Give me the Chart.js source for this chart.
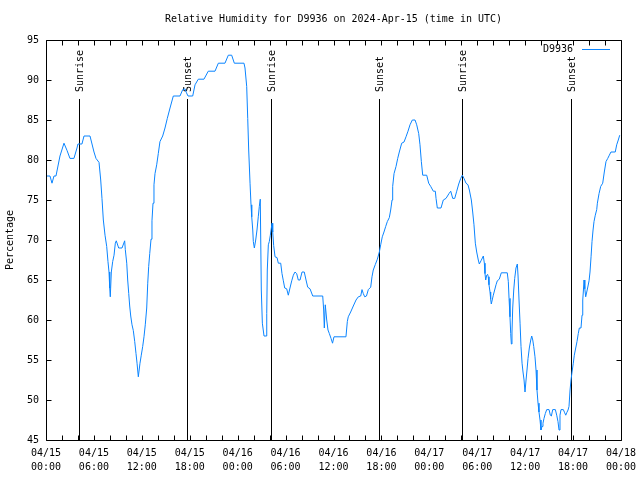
<!DOCTYPE html>
<html><head><meta charset="utf-8">
<script src="https://cdn.jsdelivr.net/npm/chart.js@4.4.1/dist/chart.umd.min.js"></script>
<style>html,body{margin:0;padding:0;background:#fff}</style>
</head><body>
<canvas id="c" width="640" height="480"></canvas>
<script>
const chartTitle = 'Relative Humidity for D9936 on 2024-Apr-15 (time in UTC)';
const seriesName = 'D9936';
const yAxisTitle = 'Percentage';
const monthLabel = '04';
const firstDay = 15;

// time in hours since 2024-04-15 00:00 UTC
const hours = [
0.00,0.50,0.75,1.00,1.25,1.75,2.25,2.63,3.00,3.50,3.88,4.00,4.50,4.76,5.51,5.76,6.01,6.26,6.64,6.85,
7.01,7.18,7.39,7.60,7.76,7.89,7.98,8.05,8.18,8.35,8.52,8.68,8.80,9.10,9.52,9.85,9.93,10.11,10.23,10.36,
10.48,10.61,10.77,10.93,11.11,11.27,11.40,11.56,11.77,11.93,12.11,12.27,12.43,12.61,12.74,12.86,12.99,13.15,13.27,13.40,
13.52,13.65,13.86,14.06,14.27,14.61,14.90,15.19,15.53,15.94,16.78,17.12,17.41,17.59,17.78,18.37,18.66,19.07,19.78,20.32,
21.16,21.58,22.41,22.83,23.25,23.58,24.79,24.92,25.13,25.26,25.38,25.55,25.67,25.76,25.89,25.96,26.09,26.26,26.42,26.58,
26.71,26.83,26.96,27.09,27.30,27.55,27.64,27.71,27.84,27.96,28.09,28.30,28.39,28.51,28.68,28.93,29.09,29.39,29.55,29.72,
29.89,30.14,30.34,30.55,30.77,30.97,31.18,31.39,31.59,31.81,32.06,32.34,32.56,32.77,33.06,33.40,34.65,34.77,34.85,34.97,
35.15,35.31,35.48,35.69,35.88,36.06,37.56,37.73,37.85,38.15,38.48,38.82,39.11,39.41,39.57,39.73,39.91,40.13,40.36,40.66,
40.82,40.98,41.24,41.49,41.74,41.91,42.11,42.32,42.54,42.74,42.99,43.16,43.33,43.41,43.58,43.83,44.04,44.24,44.54,44.83,
45.08,45.33,45.58,45.87,46.21,46.42,46.67,46.83,47.00,47.17,47.67,47.92,48.17,48.50,48.75,48.84,49.00,49.46,49.75,50.09,
50.46,50.68,50.93,51.18,51.43,51.68,51.93,52.13,52.34,52.59,52.84,53.01,53.26,53.43,53.59,53.76,53.93,54.13,54.26,54.47,
54.76,54.89,54.97,55.06,55.18,55.30,55.38,55.47,55.60,55.68,55.76,56.01,56.18,56.35,56.51,56.76,57.01,57.76,57.89,57.98,
58.10,58.19,58.27,58.35,58.44,58.57,58.69,58.85,59.02,59.11,59.23,59.36,59.48,59.61,59.73,59.86,59.98,60.11,60.23,60.36,
60.52,60.70,60.82,60.95,61.07,61.23,61.36,61.48,61.61,61.73,61.86,61.98,62.11,62.23,62.36,62.52,62.70,62.99,63.15,63.28,
63.45,63.78,63.95,64.11,64.24,64.36,64.49,64.78,64.95,65.08,65.20,65.37,65.49,65.62,65.74,65.87,66.03,66.15,66.33,66.49,
66.65,66.78,66.99,67.12,67.21,67.28,67.37,67.47,67.58,67.71,67.87,68.00,68.12,68.25,68.37,68.50,68.62,68.78,68.96,69.04,
69.25,69.46,69.71,69.91,70.12,70.34,70.54,70.74,71.28,71.46,71.66,71.84
];
const humidity = [
78,78,77.1,78,78,80.5,82.1,81.2,80.2,80.2,81.5,82,82,83,83,82,81,80.2,79.7,77.5,
75.2,72.5,70.6,69.2,67.3,66,64,62.9,66,67.3,68.1,69.6,69.9,69,69,69.9,68.8,67.1,65,63.3,
61.75,60.5,59.4,58.7,57.3,55.8,54.6,52.9,54.6,55.6,56.7,57.9,59.4,61.5,64.6,66.7,68.3,70.1,72.4,74.6,
76.9,78.3,79.4,80.8,82.3,83,84,85.2,86.5,88,88,88.8,88.9,88.4,88,88,89.4,90.1,90.1,91.1,
91.1,92.1,92.1,93.1,93.1,92.1,92.1,91.5,89.2,85.2,81.25,77.1,74.4,72.9,71.25,69.8,69,70,71.25,72.9,
74.2,75.1,63.75,59.6,58,58,60.8,66.25,69.4,69.8,70.6,72.1,71,69.3,67.9,67.8,67.1,67.1,65.8,64.9,
64,63.9,63.1,64,64.9,65.6,66,65.8,65,65,66,66,65,64.1,63.9,63,63,61.25,59,61.9,
60,58.75,58.3,57.7,57.1,57.9,57.9,59.8,60.4,61,61.75,62.5,62.9,63,63.8,63.3,62.9,63,63.8,64.1,
65.4,66.25,66.95,67.6,68.5,69.4,70.4,71,71.7,72.3,72.8,73.75,75,76.7,78.3,79.2,80.2,81,82.1,82.25,
82.9,83.6,84.4,85,85,84.4,83.3,81.9,79.8,78.1,78.1,77.1,76.7,76.1,76.1,75.2,74,74,75,75.2,
75.8,76.1,75.2,75.2,76.1,77,77.7,78.1,77.7,77.1,76.9,76.25,75,73.5,71.9,69.6,68.5,67.5,67,67.4,
68,67.1,65.8,65,65.6,65.7,65.4,64.4,63.5,62.6,62,63.1,63.75,64.4,64.9,65.1,65.9,65.9,64.8,62.7,
60.4,58.3,57,58.5,61.5,63.75,65.2,66.5,67,65.5,62.5,59.6,56.7,54.6,53.5,52.5,51,52.5,53.75,55.2,
56.5,57.5,58,57.5,56.7,55.4,53.75,51.25,49.6,48.5,47.5,46.25,46.7,47.1,47.7,48.3,48.8,48.8,48.1,48,
48.8,48.8,48.1,47.3,46.25,48.1,48.8,48.8,48.4,48.1,48.4,48.75,49.2,51.25,52.5,53.5,54.6,55.6,56.5,57.3,
58.3,59,59,60.6,62.5,63.5,65,63.9,62.9,63.5,64.25,64.9,66,67.9,69.8,71.25,72.3,73.1,73.8,74.6,
75.8,76.7,77.1,78.5,79.8,80.2,80.6,81,81,81.9,82.5,83.1
];

const eventHours = [4.17, 17.67, 28.17, 41.73, 52.13, 65.78];
const eventLabels = ['Sunrise', 'Sunset', 'Sunrise', 'Sunset', 'Sunrise', 'Sunset'];

const xMin = 0, xMax = 72, xMajorStep = 6, xMinorStep = 2;
const yMin = 45, yMax = 95, yStep = 5;

const FONT = '"DejaVu Sans Mono", "Liberation Mono", monospace';
const lineColor = '#0a84ff';

const points = hours.map((h, i) => ({x: h, y: humidity[i]}));

const gnuplotFrame = {
  id: 'gnuplotFrame',
  beforeDatasetsDraw(chart) {
    const {ctx, chartArea: a, scales: {x}} = chart;
    ctx.save();
    ctx.strokeStyle = '#000';
    ctx.lineWidth = 1;
    ctx.fillStyle = '#000';
    ctx.font = '10px ' + FONT;
    eventHours.forEach((h, i) => {
      const px = Math.round(x.getPixelForValue(h)) + 0.5;
      ctx.beginPath();
      ctx.moveTo(px, a.top + 59);
      ctx.lineTo(px, a.bottom);
      ctx.stroke();
      ctx.save();
      ctx.translate(px + 1, a.top + 52);
      ctx.rotate(-Math.PI / 2);
      ctx.textAlign = 'left';
      ctx.textBaseline = 'middle';
      ctx.fillText(eventLabels[i], 0, 0);
      ctx.restore();
    });
    ctx.restore();
  },
  afterDraw(chart) {
    const {ctx, chartArea: a, scales: {x, y}} = chart;
    ctx.save();
    ctx.strokeStyle = '#000';
    ctx.lineWidth = 1;
    const L = a.left + 0.5, R = a.right + 0.5, T = a.top + 0.5, B = a.bottom + 0.5;
    ctx.beginPath();
    ctx.moveTo(L, T); ctx.lineTo(R, T); ctx.lineTo(R, B); ctx.lineTo(L, B); ctx.closePath();
    ctx.stroke();
    const tl = 5;
    ctx.beginPath();
    for (let h = xMin; h <= xMax; h += xMinorStep) {
      const px = Math.round(x.getPixelForValue(h)) + 0.5;
      ctx.moveTo(px, B); ctx.lineTo(px, B - tl);
      ctx.moveTo(px, T); ctx.lineTo(px, T + tl);
    }
    for (let v = yMin; v <= yMax; v += yStep) {
      const py = Math.round(y.getPixelForValue(v)) + 0.5;
      ctx.moveTo(L, py); ctx.lineTo(L + tl, py);
      ctx.moveTo(R, py); ctx.lineTo(R - tl, py);
    }
    ctx.stroke();
    // key
    ctx.fillStyle = '#000';
    ctx.font = '10px ' + FONT;
    ctx.textAlign = 'right';
    ctx.textBaseline = 'middle';
    const ky = a.top + 9;
    ctx.fillText(seriesName, a.right - 48, ky);
    ctx.strokeStyle = lineColor;
    ctx.beginPath();
    ctx.moveTo(a.right - 39, ky + 0.5);
    ctx.lineTo(a.right - 11, ky + 0.5);
    ctx.stroke();
    ctx.restore();
  }
};

new Chart(document.getElementById('c'), {
  type: 'line',
  data: {
    datasets: [{
      label: seriesName,
      data: points,
      borderColor: lineColor,
      borderWidth: 1,
      pointRadius: 0,
      tension: 0,
      fill: false
    }]
  },
  options: {
    responsive: false,
    devicePixelRatio: 1,
    animation: false,
    layout: {padding: {left: 0, right: 19, top: 0, bottom: 0}},
    plugins: {
      legend: {display: false},
      tooltip: {enabled: false},
      title: {
        display: true,
        text: chartTitle,
        fullSize: false,
        color: '#000',
        font: {family: FONT, size: 10, weight: 'normal', lineHeight: 1.2},
        padding: {top: 13, bottom: 15}
      }
    },
    scales: {
      x: {
        type: 'linear',
        min: xMin, max: xMax,
        grid: {display: false, drawTicks: false},
        border: {display: false},
        ticks: {
          stepSize: xMajorStep,
          autoSkip: false,
          maxRotation: 0,
          padding: 6,
          color: '#000',
          font: {family: FONT, size: 10, lineHeight: 1.4},
          callback: (v) => {
            const d = firstDay + Math.floor(v / 24);
            const hh = v % 24;
            return [monthLabel + '/' + d, String(hh).padStart(2, '0') + ':00'];
          }
        },
        afterFit: (s) => { s.height = 40; s.paddingLeft = 0; s.paddingRight = 0; }
      },
      y: {
        min: yMin, max: yMax,
        grid: {display: false, drawTicks: false},
        border: {display: false},
        ticks: {stepSize: yStep, padding: 7, color: '#000', font: {family: FONT, size: 10}},
        title: {display: true, text: yAxisTitle, color: '#000', font: {family: FONT, size: 10, lineHeight: 1.2}, padding: {top: 4, bottom: 0}},
        afterFit: (s) => { s.width = 46; }
      }
    }
  },
  plugins: [gnuplotFrame]
});
</script>
</body></html>
